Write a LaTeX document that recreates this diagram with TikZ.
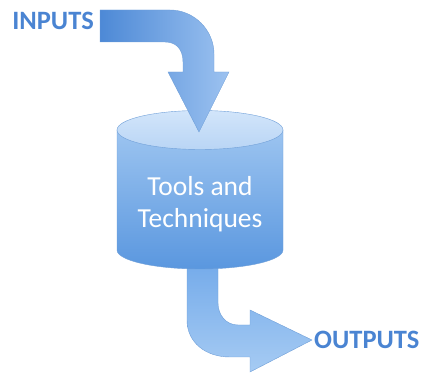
\documentclass[tikz,border=0pt]{standalone}
\usepackage{fontspec}
\setmainfont{Carlito}
\usetikzlibrary{positioning}
\definecolor{ioBlue}{HTML}{4A84D2}
\definecolor{inDark}{HTML}{4D89D6}
\definecolor{inLight}{HTML}{9CC2F0}
\definecolor{outDark}{HTML}{6AA4E8}
\definecolor{outLight}{HTML}{A6CBF3}
\definecolor{cylLight}{HTML}{9CC4F0}
\definecolor{cylDark}{HTML}{5A97DF}
\definecolor{topLight}{HTML}{D2E5FA}
\definecolor{topDark}{HTML}{B9D5F5}
\definecolor{edgeBlue}{HTML}{6F9FD8}
\tikzset{
  io_lbl/.style = {font=\fontsize{26.5}{30}\selectfont\bfseries, text=ioBlue, inner sep=0pt},
  blk_arr/.style = {draw=edgeBlue, line width=0.4pt},
  cyl_body/.style = {draw=edgeBlue, line width=0.4pt, top color=cylLight, bottom color=cylDark},
  cyl_top/.style = {draw=edgeBlue, line width=0.4pt, top color=topLight, bottom color=topDark},
  cyl_txt/.style = {align=center, text=white, font=\fontsize{27.5}{32}\selectfont, inner sep=0pt},
}

\begin{document}
\begin{tikzpicture}[x=1pt, y=1pt]
  \useasboundingbox (0,0) rectangle (421,379);
  % output arrow, behind the cylinder
  \path [blk_arr, top color=outDark, bottom color=outLight]
    (187,140) -- (187,59) .. controls (187,37) and (205,22) .. (230,22)
    -- (250,22) -- (250,7) -- (312,39) coordinate (out_tip) -- (250,69)
    -- (250,54) -- (238,54) .. controls (226,54) and (218,64) .. (218,76)
    -- (218,140) -- cycle;
  % cylinder
  \path [cyl_body] (117,249) -- (117,129)
    arc[start angle=180, end angle=360, x radius=83, y radius=19]
    -- (283,249) -- cycle;
  \path [cyl_top] (200,249) ellipse [x radius=83, y radius=19.5];
  \node [cyl_txt] (tools) at (200,175) {Tools and\\Techniques};
  % input arrow
  \path [blk_arr, left color=inDark, right color=inLight]
    (100,369) -- (170,369) .. controls (194,369) and (214,349) .. (214,325)
    -- (214,307) -- (229,307) -- (199,247) coordinate (in_tip) -- (168,307)
    -- (183,307) -- (183,317) .. controls (183,330) and (176,337) .. (165,337)
    -- (100,337) -- cycle;
  \node [io_lbl, anchor=east] (inputs) at (94,358) {INPUTS};
  \node [io_lbl, right=2pt of out_tip] (outputs) {OUTPUTS};
\end{tikzpicture}
\end{document}
